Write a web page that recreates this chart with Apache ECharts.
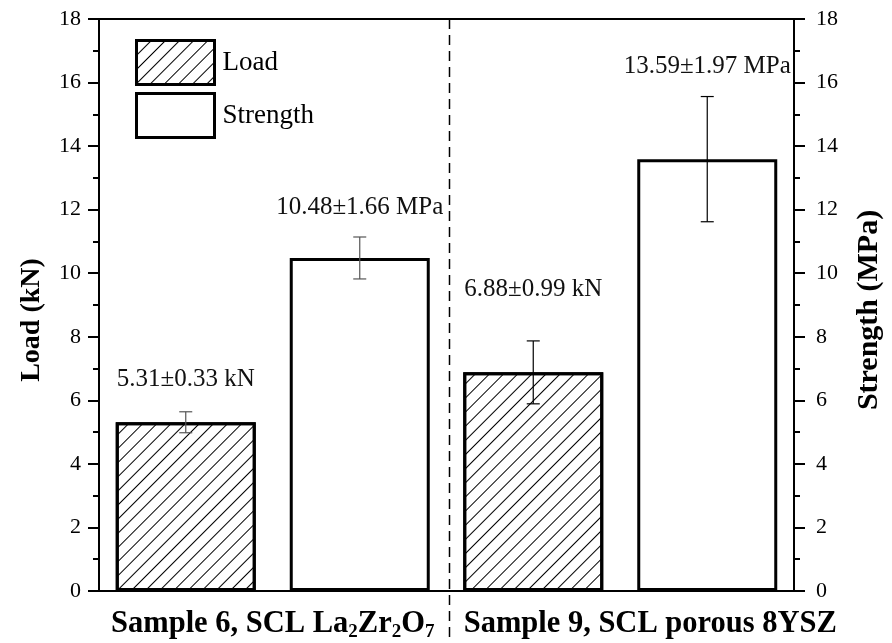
<!DOCTYPE html>
<html>
<head>
<meta charset="utf-8">
<script src="https://cdn.jsdelivr.net/npm/echarts@6/dist/echarts.min.js"></script>
<style>html,body{margin:0;padding:0;background:#fff}#c{width:892px;height:643px}</style>
</head>
<body>
<div id="c"></div>
<script>
// ---- data ----
const categories = ['Sample 6, SCL La_2Zr_2O_7', 'Sample 9, SCL porous 8YSZ'];
const loadMean = [5.31, 6.88];
const loadErr = [0.33, 0.99];
const strengthMean = [10.48, 13.59];
const strengthErr = [0.66, 1.97];
const loadLabels = ['5.31\u00b10.33 kN', '6.88\u00b10.99 kN'];
const strengthLabels = ['10.48\u00b11.66 MPa', '13.59\u00b11.97 MPa'];
const yTicks = { min: 0, max: 18, interval: 2 };

// ---- style constants ----
const FONT = '"Liberation Serif", "Times New Roman", serif';
const BAR_W = 140, BAR_GAP = 34;
const HALF = (BAR_W + BAR_GAP) / 2;
const loadLabelOffsets = [32, 51];
const strengthLabelOffsets = [30, 30];
const errColors = ['#555', '#000'];

function errorSeries(name, mean, err, labels, offsets, axisIdx, dx) {
  return {
    type: 'custom', name: name, yAxisIndex: axisIdx, z: 10, clip: false,
    data: mean.map((m, i) => [i, m, err[i]]),
    renderItem: function (params, api) {
      const i = api.value(0), m = api.value(1), e = api.value(2);
      const c = api.coord([i, m]);
      const x = c[0] + dx;
      const top = api.coord([i, m + e])[1];
      const bot = api.coord([i, m - e])[1];
      const col = errColors[i];
      const ls = { stroke: col, lineWidth: 1.2 };
      return {
        type: 'group',
        children: [
          { type: 'line', shape: { x1: x, y1: top, x2: x, y2: bot }, style: ls },
          { type: 'line', shape: { x1: x - 6.5, y1: top, x2: x + 6.5, y2: top }, style: ls },
          { type: 'line', shape: { x1: x - 6.5, y1: bot, x2: x + 6.5, y2: bot }, style: ls },
          { type: 'text', x: x, y: top - offsets[i],
            style: { text: labels[i], fill: '#111', font: '25px ' + FONT, textAlign: 'center', textVerticalAlign: 'middle' } }
        ]
      };
    }
  };
}

const hatch = {
  symbol: 'rect', symbolSize: 1, color: '#000',
  dashArrayX: [1, 0], dashArrayY: [1, 9], rotation: -Math.PI / 4
};

function yAxisCfg(name, pos, gap, labelMargin, nameSize, namePad) {
  return {
    type: 'value', position: pos, min: yTicks.min, max: yTicks.max, interval: yTicks.interval,
    name: name, nameLocation: 'middle', nameGap: gap, nameRotate: 90,
    nameTextStyle: { fontFamily: FONT, fontSize: nameSize, fontWeight: 'bold', color: '#000', padding: [0, namePad, 0, 0] },
    axisLine: { show: true, lineStyle: { color: '#000', width: 2 } },
    axisTick: { show: true, inside: false, length: 11, lineStyle: { color: '#000', width: 2 } },
    minorTick: { show: true, splitNumber: 2, length: 6, lineStyle: { color: '#000', width: 2 } },
    splitLine: { show: false },
    axisLabel: { fontFamily: FONT, fontSize: 22, color: '#000', margin: labelMargin }
  };
}

const chart = echarts.init(document.getElementById('c'), null, { renderer: 'canvas' });
chart.setOption({
  animation: false,
  backgroundColor: '#fff',
  grid: { left: 99, right: 95, top: 19, bottom: 52, show: true, borderColor: '#000', borderWidth: 2 },
  legend: {
    orient: 'vertical', left: 130, top: 34, itemWidth: 78, itemHeight: 44, itemGap: 6,
    icon: 'rect',
    itemStyle: { borderColor: '#000', borderWidth: 3 },
    textStyle: { fontFamily: FONT, fontSize: 27, color: '#000', padding: [0, 0, 0, 3] },
    data: ['Load', 'Strength']
  },
  xAxis: {
    type: 'category', data: categories,
    axisLine: { lineStyle: { color: '#000', width: 2 } },
    axisTick: { show: false },
    axisLabel: {
      margin: 15, interval: 0,
      formatter: function (v, idx) {
        const body = '{m|' + v.replace(/_(\d)/g, '}{s|$1}{m|') + '}';
        return (idx === 1 ? '{pad|}' : '') + body;
      },
      rich: {
        m: { fontFamily: FONT, fontSize: 30.5, fontWeight: 'bold', color: '#000', lineHeight: 36 },
        s: { fontFamily: FONT, fontSize: 19, fontWeight: 'bold', color: '#000', lineHeight: 10, verticalAlign: 'bottom' },
        pad: { width: 60 }
      }
    }
  },
  yAxis: [yAxisCfg('Load (kN)', 'left', 53, 18, 28, 30), yAxisCfg('Strength (MPa)', 'right', 60, 22, 30, 10)],
  series: [
    {
      name: 'Load', type: 'bar', yAxisIndex: 0, data: loadMean,
      barWidth: BAR_W, barGap: (BAR_GAP / BAR_W * 100) + '%',
      itemStyle: { color: '#fff', borderColor: '#000', borderWidth: 3, decal: hatch }
    },
    {
      name: 'Strength', type: 'bar', yAxisIndex: 1, data: strengthMean,
      barWidth: BAR_W,
      itemStyle: { color: '#fff', borderColor: '#000', borderWidth: 3 }
    },
    errorSeries('errLoad', loadMean, loadErr, loadLabels, loadLabelOffsets, 0, -HALF),
    errorSeries('errStrength', strengthMean, strengthErr, strengthLabels, strengthLabelOffsets, 1, HALF),
    {
      type: 'custom', name: 'divider', yAxisIndex: 0, z: 5, clip: false, silent: true,
      data: [[0, yTicks.max]],
      renderItem: function (params, api) {
        const p = api.coord([api.value(0), api.value(1)]);
        const bw = api.size([1, 0])[0];
        const x = p[0] + bw / 2 + 3;
        return { type: 'line', shape: { x1: x, y1: p[1], x2: x, y2: api.getHeight() },
          style: { stroke: '#000', lineWidth: 1.5, lineDash: [10, 6] } };
      }
    }
  ]
});
</script>
</body>
</html>
